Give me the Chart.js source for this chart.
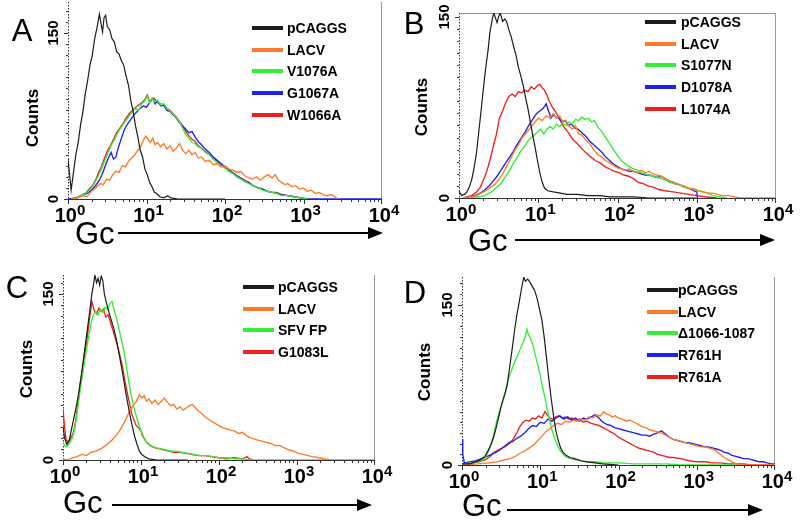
<!DOCTYPE html>
<html>
<head>
<meta charset="utf-8">
<script src="https://cdn.jsdelivr.net/npm/chart.js@4.4.0/dist/chart.umd.min.js"></script>
<style>
    body { margin: 0; background: #fff; }
    #fig { position: relative; width: 800px; height: 525px; overflow: hidden; font-family: "Liberation Sans", Arial, Helvetica, sans-serif; color: #000; }
    .panel { position: absolute; }
    .panel canvas { position: absolute; left: 0; top: 0; }
    .t { position: absolute; white-space: nowrap; line-height: 1; transform: translate(-50%, -50%); }
    .rot { transform: translate(-50%, -50%) rotate(-90deg); }
    .letter { font-size: 31px; }
    .counts { font-size: 17px; font-weight: bold; }
    .ytick { font-size: 15px; font-weight: bold; }
    .xtick { font-size: 20px; font-weight: bold; transform: translate(-50%, 0); }
    .xtick span { font-size: 15px; position: relative; top: -7px; }
    .gc { font-size: 31px; transform: translate(0, -50%); }
    .leg { position: absolute; height: 16px; font-size: 14px; font-weight: bold; white-space: nowrap; }
    .leg i { position: absolute; left: 0; top: 6px; width: 31px; height: 4px; }
    .leg b { position: absolute; top: 0; line-height: 16px; }
</style>
</head>
<body>
<div id="fig"></div>
<script>
// Gc values are stored as log10(Gc); counts
const gcDecades = [0, 1, 2, 3, 4];
const countTicks = [0, 150];

// A
const aPcaggs = [[0,36],[0.02,22],[0.04,8],[0.07,24],[0.1,40],[0.13,51],[0.16,67],[0.19,79],[0.22,95],[0.25,107],[0.28,121],[0.31,130],[0.34,145],[0.37,155],[0.4,167],[0.42,159],[0.44,151],[0.46,164],[0.48,166],[0.5,156],[0.53,153],[0.56,145],[0.59,142],[0.62,133],[0.65,131],[0.68,125],[0.71,121],[0.74,111],[0.77,103],[0.8,89],[0.83,79],[0.86,66],[0.89,56],[0.92,44],[0.95,38],[0.98,27],[1.01,22],[1.04,15],[1.07,11],[1.1,6],[1.13,5],[1.17,2],[1.22,1],[1.27,3],[1.31,1],[1.4,0],[2,0]];
const aLacv = [[0.05,0],[0.12,1],[0.18,3],[0.24,2],[0.3,7],[0.34,9],[0.38,12],[0.41,14],[0.45,13],[0.49,18],[0.53,17],[0.57,22],[0.61,25],[0.65,24],[0.69,30],[0.73,29],[0.77,34],[0.81,37],[0.85,40],[0.89,44],[0.93,48],[0.96,53],[0.99,57],[1.02,54],[1.05,51],[1.08,55],[1.11,49],[1.14,51],[1.18,47],[1.22,50],[1.26,45],[1.3,48],[1.34,43],[1.38,46],[1.42,50],[1.46,44],[1.5,41],[1.54,44],[1.58,40],[1.62,42],[1.66,37],[1.7,38],[1.75,34],[1.8,35],[1.85,31],[1.9,32],[1.95,29],[2.0,30],[2.05,27],[2.1,26],[2.15,24],[2.2,25],[2.25,21],[2.3,19],[2.35,18],[2.4,20],[2.45,17],[2.5,20],[2.55,22],[2.6,19],[2.64,22],[2.68,17],[2.72,15],[2.76,13],[2.8,14],[2.85,11],[2.9,12],[2.95,9],[3.0,10],[3.05,7],[3.1,8],[3.15,5],[3.2,6],[3.25,4],[3.3,3],[3.35,4],[3.4,2],[3.44,0]];
const aV1076A = [[0.04,0],[0.1,1],[0.16,3],[0.22,5],[0.27,8],[0.31,11],[0.35,16],[0.39,21],[0.43,28],[0.46,33],[0.5,40],[0.54,47],[0.58,52],[0.62,58],[0.66,63],[0.7,67],[0.74,71],[0.78,75],[0.82,79],[0.86,82],[0.9,80],[0.94,86],[0.98,89],[1.01,93],[1.04,87],[1.07,91],[1.1,88],[1.14,89],[1.18,85],[1.22,86],[1.26,82],[1.3,79],[1.34,77],[1.38,73],[1.42,70],[1.46,64],[1.5,58],[1.54,55],[1.58,51],[1.62,50],[1.66,47],[1.7,46],[1.75,42],[1.8,40],[1.85,36],[1.9,33],[1.95,30],[2.0,28],[2.05,25],[2.1,23],[2.15,20],[2.2,18],[2.25,16],[2.3,14],[2.36,12],[2.42,10],[2.48,8],[2.54,7],[2.6,6],[2.66,5],[2.72,3],[2.8,3],[2.88,2],[2.96,1],[3.05,0]];
const aG1067A = [[0,0],[0.12,1],[0.18,3],[0.24,5],[0.3,8],[0.35,12],[0.4,17],[0.44,23],[0.48,31],[0.52,38],[0.55,42],[0.58,36],[0.61,38],[0.64,46],[0.68,55],[0.72,63],[0.76,68],[0.8,72],[0.84,76],[0.88,79],[0.92,82],[0.96,84],[1.0,83],[1.04,87],[1.08,91],[1.11,86],[1.14,89],[1.18,84],[1.22,85],[1.26,80],[1.3,79],[1.34,76],[1.38,73],[1.42,69],[1.46,66],[1.5,63],[1.54,60],[1.58,61],[1.62,56],[1.66,52],[1.7,49],[1.75,45],[1.8,42],[1.85,38],[1.9,35],[1.95,32],[2.0,29],[2.05,26],[2.1,24],[2.15,21],[2.2,19],[2.25,16],[2.3,15],[2.36,12],[2.42,10],[2.48,9],[2.54,7],[2.6,6],[2.66,5],[2.72,4],[2.8,3],[2.88,2],[2.96,1],[3.05,0],[4,0]];
const aW1066A = [[0.04,0],[0.1,1],[0.16,3],[0.22,5],[0.27,9],[0.31,12],[0.35,17],[0.39,24],[0.43,30],[0.46,36],[0.5,43],[0.54,48],[0.58,54],[0.62,60],[0.66,64],[0.7,68],[0.74,73],[0.78,77],[0.82,80],[0.86,83],[0.9,85],[0.94,87],[0.98,90],[1.01,94],[1.04,88],[1.07,90],[1.1,91],[1.14,87],[1.18,86],[1.22,84],[1.26,82],[1.3,80],[1.34,77],[1.38,74],[1.42,70],[1.46,66],[1.5,61],[1.54,57],[1.58,54],[1.62,52],[1.66,48],[1.7,46],[1.75,43],[1.8,40],[1.85,37],[1.9,34],[1.95,31],[2.0,28],[2.05,26],[2.1,23],[2.15,21],[2.2,19],[2.25,17],[2.3,15],[2.36,12],[2.42,10],[2.48,9],[2.54,7],[2.6,6],[2.66,6],[2.72,4],[2.8,3],[2.88,2],[2.96,1],[3.05,0]];

// B
const bPcaggs = [[0,6],[0.03,2],[0.07,3],[0.1,5],[0.13,9],[0.16,15],[0.19,25],[0.22,37],[0.25,55],[0.28,73],[0.31,92],[0.34,109],[0.37,124],[0.39,137],[0.42,148],[0.44,153],[0.46,149],[0.48,145],[0.5,150],[0.52,153],[0.55,146],[0.58,148],[0.6,146],[0.63,139],[0.66,133],[0.69,125],[0.72,118],[0.75,108],[0.78,101],[0.81,93],[0.84,83],[0.87,74],[0.9,63],[0.93,52],[0.96,42],[0.99,31],[1.02,21],[1.05,13],[1.08,8],[1.12,6],[1.19,5],[1.28,4],[1.36,3],[1.5,3],[1.62,2],[1.78,2],[1.9,1],[2.2,1],[2.4,0],[3,0]];
const bLacv = [[0.05,0],[0.15,1],[0.22,2],[0.28,4],[0.34,6],[0.4,9],[0.45,11],[0.5,15],[0.55,20],[0.6,26],[0.65,32],[0.7,39],[0.75,44],[0.8,50],[0.85,54],[0.9,58],[0.95,62],[1.0,66],[1.05,64],[1.1,68],[1.15,66],[1.19,70],[1.23,66],[1.27,68],[1.31,63],[1.35,64],[1.39,59],[1.43,57],[1.47,60],[1.51,53],[1.55,52],[1.6,48],[1.65,45],[1.7,40],[1.75,36],[1.8,34],[1.85,31],[1.9,29],[1.95,27],[2.0,25],[2.05,24],[2.1,23],[2.15,24],[2.2,22],[2.25,21],[2.3,23],[2.35,21],[2.4,22],[2.45,20],[2.5,19],[2.55,18],[2.6,16],[2.66,14],[2.72,13],[2.78,11],[2.84,10],[2.9,8],[2.96,8],[3.02,6],[3.08,5],[3.14,4],[3.2,4],[3.26,3],[3.32,2],[3.4,2],[3.48,1],[3.56,0],[4,0]];
const bS1077N = [[0.15,0],[0.25,1],[0.32,2],[0.38,4],[0.43,6],[0.48,9],[0.53,12],[0.58,17],[0.63,22],[0.68,28],[0.73,33],[0.78,39],[0.83,43],[0.88,48],[0.93,51],[0.98,54],[1.03,57],[1.07,53],[1.11,57],[1.15,59],[1.19,57],[1.23,61],[1.27,59],[1.31,62],[1.35,60],[1.39,63],[1.43,61],[1.47,65],[1.51,64],[1.55,67],[1.59,65],[1.63,66],[1.67,63],[1.71,64],[1.75,59],[1.79,56],[1.83,52],[1.87,48],[1.91,44],[1.95,40],[2.0,35],[2.05,31],[2.1,28],[2.15,26],[2.2,24],[2.25,23],[2.3,21],[2.35,20],[2.4,19],[2.45,18],[2.5,17],[2.55,16],[2.6,15],[2.66,13],[2.72,12],[2.78,11],[2.84,9],[2.9,8],[2.96,7],[3.02,6],[3.08,5],[3.14,4],[3.2,2],[3.28,1],[3.38,0]];
const bD1078A = [[0.05,0],[0.12,1],[0.2,2],[0.27,4],[0.33,7],[0.38,10],[0.43,14],[0.48,18],[0.53,23],[0.58,28],[0.63,33],[0.68,38],[0.73,44],[0.78,49],[0.83,54],[0.88,60],[0.93,65],[0.98,70],[1.02,72],[1.06,74],[1.1,78],[1.13,72],[1.16,66],[1.19,69],[1.22,67],[1.26,66],[1.3,63],[1.34,64],[1.38,60],[1.42,61],[1.46,58],[1.5,57],[1.55,54],[1.6,51],[1.65,47],[1.7,44],[1.75,41],[1.8,38],[1.85,34],[1.9,31],[1.95,28],[2.0,26],[2.05,24],[2.1,23],[2.15,22],[2.2,22],[2.25,21],[2.3,20],[2.35,19],[2.4,19],[2.45,18],[2.5,17],[2.55,18],[2.6,16],[2.66,14],[2.72,12],[2.78,11],[2.84,9],[2.9,8],[2.96,6],[3.0,5],[3.01,0]];
const bL1074A = [[0.05,0],[0.1,1],[0.16,2],[0.22,5],[0.27,9],[0.31,15],[0.35,22],[0.39,31],[0.43,42],[0.47,52],[0.51,66],[0.55,72],[0.59,79],[0.63,84],[0.67,86],[0.71,84],[0.75,88],[0.79,87],[0.83,89],[0.87,88],[0.91,92],[0.95,90],[0.99,93],[1.02,94],[1.05,91],[1.08,89],[1.11,85],[1.14,80],[1.17,76],[1.2,73],[1.24,69],[1.28,64],[1.32,59],[1.36,56],[1.4,52],[1.44,48],[1.48,46],[1.52,43],[1.56,40],[1.61,37],[1.66,34],[1.72,31],[1.78,29],[1.84,26],[1.9,24],[1.96,22],[2.02,21],[2.08,19],[2.14,18],[2.2,16],[2.26,13],[2.32,12],[2.38,10],[2.45,9],[2.52,7],[2.6,6],[2.7,5],[2.8,4],[2.9,3],[3.0,2],[3.1,1],[3.25,0]];

// C
const cPcaggs = [[0,30],[0.02,20],[0.05,14],[0.08,18],[0.11,28],[0.14,38],[0.17,48],[0.2,60],[0.23,74],[0.26,90],[0.29,106],[0.32,122],[0.35,138],[0.37,150],[0.39,158],[0.41,167],[0.43,160],[0.45,164],[0.47,158],[0.49,166],[0.51,162],[0.53,150],[0.56,141],[0.59,133],[0.62,126],[0.65,119],[0.68,110],[0.71,99],[0.74,88],[0.77,76],[0.8,63],[0.83,51],[0.86,40],[0.89,30],[0.92,21],[0.95,14],[0.98,8],[1.01,5],[1.05,3],[1.1,1],[1.2,0],[1.6,0]];
const cLacv = [[0,1],[0.06,0],[0.12,2],[0.18,3],[0.24,5],[0.3,4],[0.36,7],[0.42,8],[0.48,10],[0.53,12],[0.58,15],[0.63,18],[0.68,22],[0.73,27],[0.78,33],[0.82,39],[0.86,45],[0.9,49],[0.94,53],[0.98,59],[1.01,56],[1.04,58],[1.07,53],[1.1,55],[1.14,51],[1.18,54],[1.22,50],[1.26,53],[1.3,56],[1.34,52],[1.38,49],[1.42,50],[1.46,46],[1.5,48],[1.54,45],[1.58,47],[1.62,49],[1.66,50],[1.7,47],[1.74,44],[1.78,42],[1.82,39],[1.86,37],[1.9,35],[1.95,33],[2.0,31],[2.05,29],[2.1,28],[2.15,27],[2.2,26],[2.25,24],[2.3,25],[2.35,22],[2.4,20],[2.45,19],[2.5,18],[2.55,17],[2.6,16],[2.66,15],[2.72,13],[2.78,13],[2.84,11],[2.9,9],[2.96,8],[3.02,6],[3.08,5],[3.14,4],[3.2,3],[3.28,2],[3.36,1],[3.44,0],[4,0]];
const cSfvFp = [[0,16],[0.03,12],[0.06,13],[0.09,16],[0.12,20],[0.15,28],[0.18,42],[0.21,58],[0.24,72],[0.27,86],[0.3,99],[0.33,112],[0.36,124],[0.39,131],[0.42,134],[0.45,131],[0.48,136],[0.51,133],[0.54,138],[0.57,136],[0.6,141],[0.63,143],[0.66,134],[0.69,127],[0.72,118],[0.75,108],[0.78,99],[0.81,86],[0.84,72],[0.87,60],[0.9,50],[0.93,42],[0.96,35],[0.99,28],[1.02,21],[1.06,17],[1.1,14],[1.15,12],[1.2,11],[1.26,10],[1.32,9],[1.38,8],[1.45,8],[1.52,7],[1.6,6],[1.68,5],[1.76,4],[1.84,4],[1.92,3],[2.0,2],[2.1,2],[2.2,1],[2.3,1],[2.4,0],[3.42,0]];
const cG1083L = [[0,46],[0.02,30],[0.04,18],[0.07,16],[0.1,20],[0.13,24],[0.16,34],[0.19,50],[0.22,68],[0.25,82],[0.28,96],[0.31,110],[0.34,128],[0.37,143],[0.4,135],[0.43,132],[0.46,137],[0.49,134],[0.52,136],[0.55,129],[0.58,131],[0.61,124],[0.64,117],[0.67,110],[0.7,103],[0.73,94],[0.76,85],[0.79,73],[0.82,62],[0.85,52],[0.88,42],[0.91,36],[0.94,31],[0.97,29],[1.0,26],[1.03,21],[1.07,16],[1.12,13],[1.18,11],[1.24,10],[1.3,9],[1.36,8],[1.42,7],[1.5,7],[1.58,6],[1.66,5],[1.74,4],[1.82,4],[1.9,3],[2.0,2],[2.1,1],[2.2,2],[2.3,1],[2.36,3],[2.39,1],[2.44,0]];

// D
const dPcaggs = [[0,1],[0.1,1],[0.18,3],[0.24,5],[0.29,8],[0.33,13],[0.37,19],[0.4,25],[0.43,33],[0.46,42],[0.49,52],[0.52,60],[0.55,67],[0.58,76],[0.61,92],[0.64,108],[0.67,125],[0.7,140],[0.73,152],[0.76,165],[0.79,176],[0.81,172],[0.84,174],[0.87,171],[0.9,167],[0.93,163],[0.96,156],[0.99,146],[1.02,136],[1.05,120],[1.08,100],[1.11,80],[1.14,62],[1.17,46],[1.2,32],[1.23,23],[1.26,16],[1.29,12],[1.33,9],[1.38,7],[1.44,6],[1.52,4],[1.6,3],[1.7,2],[1.8,1],[2.0,0]];
const dLacv = [[0,0],[0.2,1],[0.35,2],[0.45,3],[0.55,5],[0.62,6],[0.68,8],[0.74,11],[0.8,13],[0.86,16],[0.92,19],[0.97,23],[1.02,27],[1.07,31],[1.12,34],[1.17,37],[1.22,39],[1.27,38],[1.32,41],[1.37,40],[1.42,42],[1.47,41],[1.52,43],[1.57,42],[1.62,45],[1.67,44],[1.72,47],[1.77,46],[1.81,50],[1.84,48],[1.88,47],[1.92,45],[1.96,46],[2.0,44],[2.05,43],[2.1,41],[2.15,42],[2.2,40],[2.25,38],[2.3,36],[2.35,35],[2.4,33],[2.45,32],[2.5,31],[2.55,30],[2.6,28],[2.65,26],[2.7,24],[2.75,23],[2.8,22],[2.85,21],[2.9,20],[2.95,19],[3.0,18],[3.05,17],[3.1,17],[3.15,16],[3.2,15],[3.25,13],[3.3,10],[3.35,7],[3.4,5],[3.45,3],[3.5,1],[3.56,0],[4,0]];
const dDelta = [[0,1],[0.15,2],[0.25,4],[0.3,7],[0.34,13],[0.38,22],[0.41,30],[0.44,40],[0.47,48],[0.5,55],[0.53,62],[0.56,70],[0.59,80],[0.62,86],[0.65,92],[0.68,98],[0.71,102],[0.74,108],[0.77,113],[0.8,118],[0.83,127],[0.85,122],[0.88,118],[0.91,111],[0.94,102],[0.97,93],[1.0,84],[1.03,73],[1.06,63],[1.09,52],[1.12,42],[1.15,33],[1.18,26],[1.21,20],[1.24,15],[1.28,11],[1.32,8],[1.38,6],[1.45,5],[1.52,4],[1.6,3],[1.7,3],[1.8,2],[2.0,2],[2.2,1],[2.4,1],[2.6,1],[2.8,0],[3.6,0]];
const dR761H = [[0,24],[0.01,10],[0.03,2],[0.1,3],[0.18,4],[0.25,6],[0.32,8],[0.38,10],[0.44,12],[0.5,15],[0.55,18],[0.6,21],[0.65,22],[0.7,25],[0.75,27],[0.8,30],[0.85,34],[0.9,37],[0.95,36],[1.0,40],[1.05,39],[1.1,43],[1.15,41],[1.2,44],[1.25,46],[1.3,43],[1.35,45],[1.4,42],[1.45,44],[1.5,41],[1.55,44],[1.6,43],[1.65,45],[1.7,47],[1.75,44],[1.8,40],[1.85,38],[1.9,37],[1.95,35],[2.0,34],[2.05,33],[2.1,32],[2.15,31],[2.2,30],[2.25,29],[2.3,28],[2.35,28],[2.4,27],[2.45,29],[2.5,30],[2.55,32],[2.6,29],[2.65,26],[2.7,24],[2.75,23],[2.8,22],[2.85,21],[2.9,21],[2.95,20],[3.0,19],[3.05,18],[3.1,17],[3.15,17],[3.2,16],[3.25,15],[3.3,14],[3.35,12],[3.4,11],[3.45,9],[3.5,8],[3.55,7],[3.6,6],[3.65,6],[3.7,5],[3.75,4],[3.8,3],[3.85,3],[3.9,2],[3.95,1],[4,1]];
const dR761A = [[0,1],[0.12,2],[0.22,3],[0.3,5],[0.36,8],[0.41,12],[0.46,14],[0.52,16],[0.57,18],[0.62,21],[0.66,25],[0.7,30],[0.74,36],[0.78,40],[0.82,42],[0.86,41],[0.9,44],[0.94,43],[0.98,46],[1.02,44],[1.06,50],[1.09,47],[1.12,44],[1.16,43],[1.2,45],[1.24,46],[1.28,44],[1.32,45],[1.36,43],[1.4,44],[1.45,42],[1.5,43],[1.55,40],[1.6,41],[1.65,39],[1.7,38],[1.75,37],[1.8,35],[1.85,33],[1.9,31],[1.95,29],[2.0,26],[2.05,24],[2.1,22],[2.15,20],[2.2,18],[2.25,16],[2.3,15],[2.35,14],[2.4,13],[2.45,12],[2.5,10],[2.55,9],[2.6,8],[2.65,7],[2.7,7],[2.8,6],[2.9,4],[3.0,3],[3.1,3],[3.2,2],[3.3,2],[3.4,1],[3.5,1],[3.6,1],[3.7,0],[3.95,0]];

const palette = {
    black: '#1c1c1c',
    orange: '#ff7b2a',
    green: '#33ee33',
    blue: '#2020ee',
    red: '#ee2020',
};

const panels = [
    {
        key: 'A', left: 0, top: 0, width: 400, height: 262,
        padding: { left: 68, right: 18, top: 2, bottom: 63 }, yMax: 178, frameTop: false,
        letter: [22, 30], counts: [32, 118], gc: [75, 233], arrow: [118, 383, 233], legend: [252, 28, 4],
        series: [['pCAGGS', 'black', aPcaggs], ['LACV', 'orange', aLacv], ['V1076A', 'green', aV1076A], ['G1067A', 'blue', aG1067A], ['W1066A', 'red', aW1066A]],
    },
    {
        key: 'B', left: 400, top: 0, width: 400, height: 262,
        padding: { left: 59, right: 24, top: 13, bottom: 64 }, yMax: 153, frameTop: true,
        letter: [14, 23], counts: [21, 107], gc: [68, 240], arrow: [115, 375, 240], legend: [245, 22, 5],
        series: [['pCAGGS', 'black', bPcaggs], ['LACV', 'orange', bLacv], ['S1077N', 'green', bS1077N], ['D1078A', 'blue', bD1078A], ['L1074A', 'red', bL1074A]],
    },
    {
        key: 'C', left: 0, top: 262, width: 400, height: 263,
        padding: { left: 63, right: 25, top: 13, bottom: 65 }, yMax: 167, frameTop: false,
        letter: [17, 25], counts: [26, 107], gc: [63, 240], arrow: [112, 372, 243], legend: [243, 25, 4],
        series: [['pCAGGS', 'black', cPcaggs], ['LACV', 'orange', cLacv], ['SFV FP', 'green', cSfvFp], ['G1083L', 'red', cG1083L]],
    },
    {
        key: 'D', left: 400, top: 262, width: 400, height: 263,
        padding: { left: 62, right: 25, top: 15, bottom: 60 }, yMax: 176, frameTop: false,
        letter: [15, 30], counts: [24, 110], gc: [62, 243], arrow: [107, 363, 248], legend: [247, 28, 0],
        series: [['pCAGGS', 'black', dPcaggs], ['LACV', 'orange', dLacv], ['\u03941066-1087', 'green', dDelta], ['R761H', 'blue', dR761H], ['R761A', 'red', dR761A]],
    },
];

const flowAxes = {
    id: 'flowAxes',
    beforeDatasetsDraw(chart, args, opts) {
        const { ctx, chartArea: a, scales: { x, y } } = chart;
        ctx.save();
        ctx.lineWidth = 1;
        ctx.strokeStyle = '#9a9a9a';
        ctx.beginPath();
        if (opts.frameTop) {
            ctx.moveTo(a.left, a.top + 0.5);
            ctx.lineTo(a.right, a.top + 0.5);
        }
        ctx.moveTo(a.right - 0.5, a.top);
        ctx.lineTo(a.right - 0.5, a.bottom);
        ctx.stroke();

        // left axis, dotted with small count ticks
        ctx.strokeStyle = '#333';
        ctx.setLineDash([1.5, 1.5]);
        ctx.beginPath();
        ctx.moveTo(a.left + 0.5, a.top);
        ctx.lineTo(a.left + 0.5, a.bottom);
        ctx.stroke();
        ctx.setLineDash([]);
        ctx.beginPath();
        for (let v = 0; v <= y.max; v += 10) {
            const py = Math.round(y.getPixelForValue(v)) + 0.5;
            ctx.moveTo(a.left - (v % 150 === 0 ? 4 : 2), py);
            ctx.lineTo(a.left, py);
        }
        ctx.stroke();

        // bottom axis with log minor ticks
        ctx.beginPath();
        ctx.moveTo(a.left, a.bottom + 0.5);
        ctx.lineTo(a.right, a.bottom + 0.5);
        for (let d = 0; d < 4; d++) {
            for (let m = 1; m <= 9; m++) {
                const px = Math.round(x.getPixelForValue(m * 10 ** d)) + 0.5;
                ctx.moveTo(px, a.bottom);
                ctx.lineTo(px, a.bottom + (m === 1 ? 5 : 3));
            }
        }
        const pEnd = Math.round(x.getPixelForValue(1e4)) - 0.5;
        ctx.moveTo(pEnd, a.bottom);
        ctx.lineTo(pEnd, a.bottom + 5);
        ctx.stroke();
        ctx.restore();
    },
    afterDraw(chart, args, opts) {
        const { ctx } = chart;
        const [x1, x2, yA] = opts.arrow;
        ctx.save();
        ctx.strokeStyle = '#000';
        ctx.fillStyle = '#000';
        ctx.lineWidth = 2;
        ctx.beginPath();
        ctx.moveTo(x1, yA);
        ctx.lineTo(x2 - 12, yA);
        ctx.stroke();
        ctx.beginPath();
        ctx.moveTo(x2, yA);
        ctx.lineTo(x2 - 15, yA - 6);
        ctx.lineTo(x2 - 15, yA + 6);
        ctx.closePath();
        ctx.fill();
        ctx.restore();
    },
};

function addText(parent, cls, html, x, y) {
    const el = document.createElement('div');
    el.className = cls;
    el.innerHTML = html;
    el.style.left = x + 'px';
    el.style.top = y + 'px';
    parent.appendChild(el);
    return el;
}

function buildPanel(p) {
    const box = document.createElement('div');
    box.className = 'panel';
    Object.assign(box.style, { left: p.left + 'px', top: p.top + 'px', width: p.width + 'px', height: p.height + 'px' });
    document.getElementById('fig').appendChild(box);

    const canvas = document.createElement('canvas');
    canvas.width = p.width;
    canvas.height = p.height;
    box.appendChild(canvas);

    const chart = new Chart(canvas, {
        type: 'line',
        data: {
            datasets: p.series.map(([label, color, pts]) => ({
                label,
                data: pts.map(([e, c]) => ({ x: 10 ** e, y: c })),
                borderColor: palette[color],
                borderWidth: color === 'black' ? 1.2 : 1.35,
                pointRadius: 0,
                tension: 0,
                fill: false,
            })),
        },
        options: {
            responsive: false,
            animation: false,
            events: [],
            layout: { padding: p.padding },
            plugins: {
                legend: { display: false },
                tooltip: { enabled: false },
                flowAxes: { frameTop: p.frameTop, arrow: p.arrow },
            },
            scales: {
                x: { type: 'logarithmic', min: 1, max: 10000, display: false },
                y: { type: 'linear', min: 0, max: p.yMax, display: false },
            },
        },
        plugins: [flowAxes],
    });

    const a = chart.chartArea;
    const sx = chart.scales.x;
    const sy = chart.scales.y;

    addText(box, 't letter', p.key, p.letter[0], p.letter[1]);
    addText(box, 't rot counts', 'Counts', p.counts[0], p.counts[1]);
    countTicks.forEach((v) => addText(box, 't rot ytick', String(v), a.left - 16, sy.getPixelForValue(v)));
    gcDecades.forEach((e) => addText(box, 't xtick', '10<span>' + e + '</span>', sx.getPixelForValue(10 ** e) + 2, a.bottom + 6));
    addText(box, 't gc', 'Gc', p.gc[0], p.gc[1]);

    const [lx, ly, gap] = p.legend;
    p.series.forEach(([label, color], i) => {
        const row = document.createElement('div');
        row.className = 'leg';
        row.style.left = lx + 'px';
        row.style.top = (ly + i * 21.7 - 8) + 'px';
        row.innerHTML = '<i style="background:' + palette[color] + '"></i><b style="left:' + (31 + gap) + 'px">' + label + '</b>';
        box.appendChild(row);
    });
}

panels.forEach(buildPanel);
</script>
</body>
</html>
